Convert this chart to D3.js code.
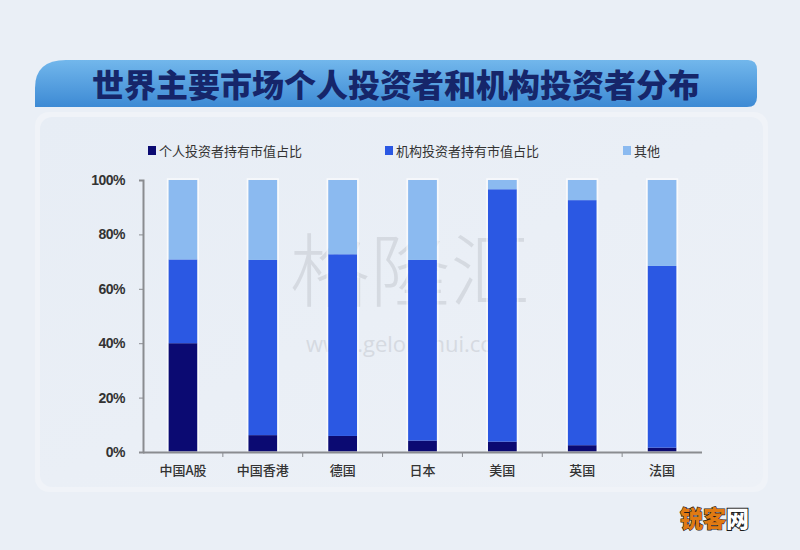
<!DOCTYPE html>
<html><head><meta charset="utf-8">
<script src="https://cdn.jsdelivr.net/npm/d3@7"></script>
<style>html,body{margin:0;padding:0;background:#eaeff6;}svg{display:block;}</style>
</head><body>
<svg id="c" width="800" height="550"></svg>
<script>
const title = "世界主要市场个人投资者和机构投资者分布";
const categories = ["中国A股","中国香港","德国","日本","美国","英国","法国"];
const seriesNames = ["个人投资者持有市值占比","机构投资者持有市值占比","其他"];
const individual = [40, 6.2, 5.9, 4.2, 3.8, 2.5, 1.6];
const institutional = [30.8, 64.4, 66.8, 66.4, 92.8, 90.1, 66.8];
const others = [29.2, 29.4, 27.3, 29.4, 3.4, 7.4, 31.6];
const yTicks = [0, 20, 40, 60, 80, 100];
const colors = ["#0b0a72", "#2b58e3", "#8bbaf0"];

const svg = d3.select("#c");
const defs = svg.append("defs");
const g1 = defs.append("linearGradient").attr("id","tb").attr("x1",0).attr("y1",0).attr("x2",0).attr("y2",1);
g1.append("stop").attr("offset","0%").attr("stop-color","#72b7ec");
g1.append("stop").attr("offset","100%").attr("stop-color","#3d8ad4");
const g2 = defs.append("linearGradient").attr("id","card").attr("x1",0).attr("y1",0).attr("x2",1).attr("y2",1);
g2.append("stop").attr("offset","0%").attr("stop-color","#e7edf5");
g2.append("stop").attr("offset","100%").attr("stop-color","#edf1f7");

// card
svg.append("rect").attr("x",35).attr("y",112).attr("width",733).attr("height",380).attr("rx",14)
  .attr("fill","#f0f3f8");
svg.append("rect").attr("x",40).attr("y",117).attr("width",723).attr("height",370).attr("rx",12)
  .attr("fill","url(#card)");

// title banner
svg.append("path")
  .attr("d","M35,107 L35,88 Q35,60 66,60 L748,60 Q757,60 757,70 L757,97 Q757,107 747,107 Z")
  .attr("fill","url(#tb)");
svg.append("text").attr("x",396).attr("y",97).attr("text-anchor","middle")
  .attr("font-family","Noto Sans CJK SC").attr("font-weight",900).attr("font-size",32)
  .attr("fill","#16266a").text(title);

// watermark
svg.append("text").attr("x",410).attr("y",300).attr("text-anchor","middle")
  .attr("font-family","Noto Sans CJK SC").attr("font-weight",300).attr("font-size",80)
  .attr("fill","#cfd3da").attr("opacity",0.75).text("格隆汇");
svg.append("text").attr("x",410).attr("y",352).attr("text-anchor","middle")
  .attr("font-family","Open Sans").attr("font-size",22)
  .attr("fill","#cfd3da").attr("opacity",0.75).text("www.gelonghui.com");

const x = d3.scaleBand().domain(categories).range([143, 702]).paddingInner(0.64).paddingOuter(0.32);
const y = d3.scaleLinear().domain([0,100]).range([452,180]);

const rows = categories.map((c,i)=>({cat:c, a:individual[i], b:institutional[i], c:others[i]}));
const stack = d3.stack().keys(["a","b","c"])(rows);

const bars = svg.append("g");
stack.forEach((layer,li)=>{
  bars.selectAll(null).data(layer).join("rect")
    .attr("x", d=>x(d.data.cat)).attr("width", x.bandwidth())
    .attr("y", d=>y(d[1])).attr("height", d=>y(d[0])-y(d[1]))
    .attr("fill", colors[li]);
});
// light outline
bars.selectAll(null).data(rows).join("rect")
  .attr("x", d=>x(d.cat)-1).attr("width", x.bandwidth()+2)
  .attr("y", y(100)-1).attr("height", y(0)-y(100)+1)
  .attr("fill","none").attr("stroke","#ffffff").attr("stroke-opacity",0.7).attr("stroke-width",1.5);

// y axis
const ya = svg.append("g").attr("transform","translate(143,0)")
  .call(d3.axisLeft(y).tickValues(yTicks).tickFormat(d=>d+"%").tickSize(4).tickPadding(14));
ya.select(".domain").attr("stroke","#8a8c90").attr("stroke-width",2);
ya.selectAll(".tick line").attr("stroke","#8a8c90");
ya.selectAll("text").attr("font-family","Liberation Sans").attr("font-weight","bold")
  .attr("font-size",14).attr("fill","#333").attr("letter-spacing","-0.5");

// x axis
const bounds = d3.range(0, categories.length+1).map(i=>143 + i*((702-143)/categories.length));
svg.append("line").attr("x1",143).attr("x2",702).attr("y1",452.5).attr("y2",452.5)
  .attr("stroke","#8a8c90").attr("stroke-width",2);
svg.selectAll(null).data(bounds.slice(1,-1)).join("line")
  .attr("x1",d=>d).attr("x2",d=>d).attr("y1",453).attr("y2",457).attr("stroke","#8a8c90");
svg.selectAll(null).data(categories).join("text")
  .attr("x",d=>x(d)+x.bandwidth()/2).attr("y",475).attr("text-anchor","middle")
  .attr("font-family","Noto Sans CJK SC").attr("font-size",13).attr("font-weight",500)
  .attr("fill","#333").text(d=>d);

// legend
const legX = [148, 385, 623];
seriesNames.forEach((n,i)=>{
  svg.append("rect").attr("x",legX[i]).attr("y",146).attr("width",8).attr("height",9).attr("fill",colors[i]);
  svg.append("text").attr("x",legX[i]+11).attr("y",156).attr("font-family","Noto Sans CJK SC")
    .attr("font-size",13).attr("fill","#333").text(n);
});

// site logo
const logo = svg.append("text").attr("x",680).attr("y",527).attr("font-family","Noto Sans CJK SC")
  .attr("font-weight",900).attr("font-size",23);
logo.append("tspan").attr("fill","#e07a12").attr("stroke","#1a1a1a").attr("stroke-width",1.2)
  .attr("paint-order","stroke").text("锐客");
logo.append("tspan").attr("fill","#ffffff").attr("stroke","#1a1a1a").attr("stroke-width",2)
  .attr("paint-order","stroke").text("网");
</script>
</body></html>
